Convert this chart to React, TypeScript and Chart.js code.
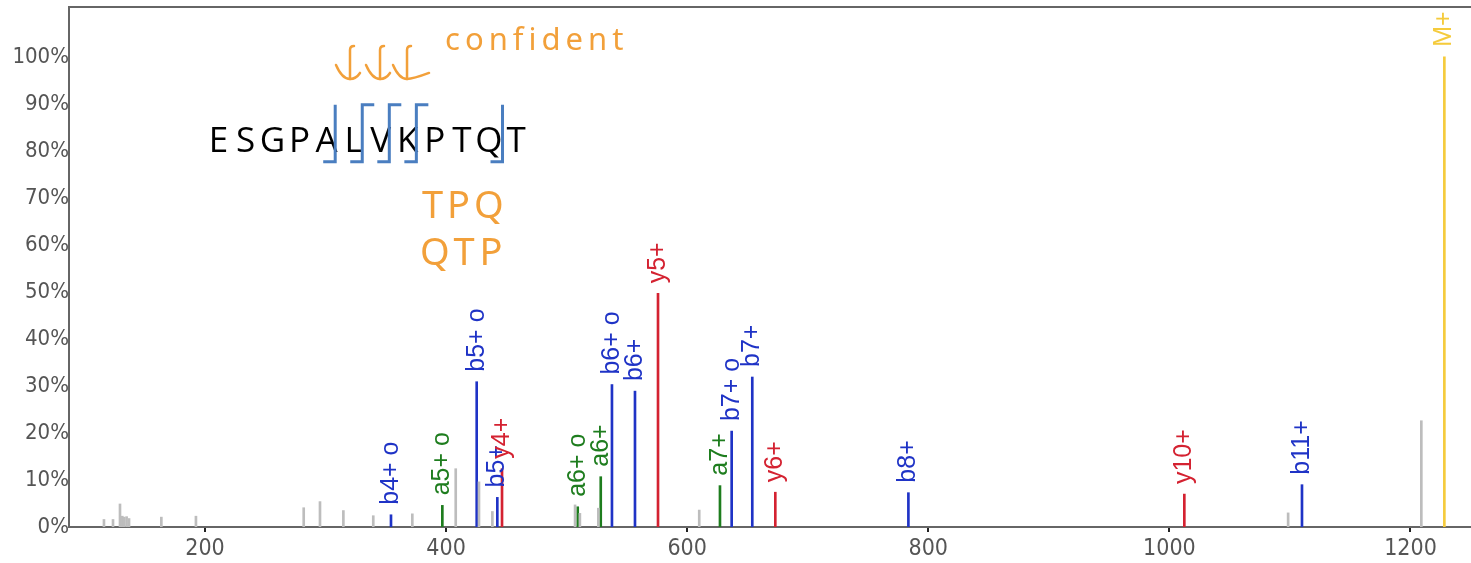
import React, { useEffect, useRef } from "react";
import { Chart, registerables } from "chart.js";

Chart.register(...registerables);

// ---- data (m/z, relative intensity %) ----
const GRAY_MZ = [116.2, 123.7, 129.5, 131.4, 133.0, 135.0, 137.0, 163.8, 192.5, 281.9, 295.4, 314.8, 339.6, 372.0, 408.0, 427.3, 438.4, 507.0, 511.0, 526.3, 610.0, 1098.5, 1209.0];
const GRAY_INT = [1.6, 1.6, 4.9, 2.3, 2.1, 2.2, 1.8, 2.1, 2.3, 4.1, 5.4, 3.5, 2.4, 2.8, 12.4, 9.6, 3.3, 4.7, 2.9, 4.0, 3.6, 3.0, 22.6];

const B_MZ = [354.3, 425.4, 442.5, 537.6, 556.7, 636.9, 654.0, 783.5, 1110.0];
const B_INT = [2.6, 30.9, 6.3, 30.3, 28.9, 20.4, 31.9, 7.3, 9.0];
const B_LABELS = ["b4+ o", "b5+ o", "b5+", "b6+ o", "b6+", "b7+ o", "b7+", "b8+", "b11+"];

const A_MZ = [396.9, 509.2, 528.3, 627.2];
const A_INT = [4.6, 4.3, 10.7, 8.8];
const A_LABELS = ["a5+ o", "a6+ o", "a6+", "a7+"];

const Y_MZ = [446.4, 575.8, 673.1, 1012.4];
const Y_INT = [12.4, 49.7, 7.4, 7.0];
const Y_LABELS = ["y4+", "y5+", "y6+", "y10+"];

const M_MZ = [1228.1];
const M_INT = [100];
const M_LABELS = ["M+"];

const X_TICKS = [200, 400, 600, 800, 1000, 1200];
const Y_TICKS = [0, 10, 20, 30, 40, 50, 60, 70, 80, 90, 100];
const X_MIN = 87.2;
const X_MAX = 1250.2;
const Y_MAX = 110.6;

// ---- annotation overlay ----
const SEQUENCE = "ESGPALVKPTQT";
const SEQ_ANCHOR = { mz: 211.2, pct: 79.8 };
const BRACKET_GAPS = [4, 5, 6, 7, 10];
const BRACKET_TOP_HOOK = [false, true, true, true, false];
const NOTES = [
  { text: "confident", mz: 399.1, pct: 101.5, size: 31, spacing: 5 },
  { text: "TPQ", mz: 380.0, pct: 65.7, size: 38, spacing: 4 },
  { text: "QTP", mz: 378.3, pct: 55.7, size: 38, spacing: 5 },
];
const ARROW_MZ = [320.3, 345.2, 367.6];
const ARROW_TOP_PCT = 102.3;
const ARROW_BOTTOM_PCT = 95.3;

const COLORS = {
  gray: "#bdbdbd",
  b: "#1f33c6",
  a: "#1e7d1e",
  y: "#d42231",
  m: "#f5cb3c",
  axis: "#666666",
  tick: "#555555",
  bracket: "#4a7ec0",
  note: "#f2a03a",
};

const TICK_FAMILY = '"DejaVu Sans Condensed", "Liberation Sans", Arial, sans-serif';
const LABEL_FONT = '25px "Liberation Sans", Arial, sans-serif';
const LABEL_GAP = 10;
const SEQ_PITCH = 27.05;

const toPoints = (xs: number[], ys: number[]) => xs.map((x, i) => ({ x, y: ys[i] }));

const overlayPlugin = {
  id: "overlay",
  afterDatasetsDraw(chart: any) {
    const { ctx, chartArea } = chart;
    const xs = chart.scales.x;
    const ys = chart.scales.y;
    ctx.save();
    // top frame line
    ctx.strokeStyle = COLORS.axis;
    ctx.lineWidth = 2;
    ctx.beginPath();
    ctx.moveTo(chartArea.left, chartArea.top);
    ctx.lineTo(chartArea.right, chartArea.top);
    ctx.stroke();

    // peak labels
    chart.data.datasets.forEach((ds: any, di: number) => {
      const labels: string[] | undefined = ds.peakLabels;
      if (!labels) return;
      const meta = chart.getDatasetMeta(di);
      meta.data.forEach((el: any, i: number) => {
        const txt = labels[i];
        if (!txt) return;
        ctx.save();
        ctx.translate(el.x, el.y - LABEL_GAP);
        ctx.rotate(-Math.PI / 2);
        ctx.font = LABEL_FONT;
        ctx.fillStyle = ds.backgroundColor;
        ctx.textAlign = "left";
        ctx.textBaseline = "middle";
        ctx.fillText(txt, 0, 0);
        ctx.restore();
      });
    });

    // sequence
    const sx = xs.getPixelForValue(SEQ_ANCHOR.mz);
    const sy = ys.getPixelForValue(SEQ_ANCHOR.pct);
    ctx.font = '35px "Open Sans", "Noto Sans", sans-serif';
    ctx.fillStyle = "#000000";
    ctx.textAlign = "center";
    ctx.textBaseline = "alphabetic";
    for (let i = 0; i < SEQUENCE.length; i++) {
      ctx.fillText(SEQUENCE[i], sx + i * SEQ_PITCH, sy);
    }
    // brackets
    ctx.strokeStyle = COLORS.bracket;
    ctx.lineWidth = 3;
    ctx.lineJoin = "miter";
    BRACKET_GAPS.forEach((g, k) => {
      const bx = sx + (g + 0.5) * SEQ_PITCH - (k === BRACKET_GAPS.length - 1 ? 0 : 5);
      const top = sy - 47;
      const bot = sy + 10;
      ctx.beginPath();
      if (BRACKET_TOP_HOOK[k]) {
        ctx.moveTo(bx + 12, top);
        ctx.lineTo(bx, top);
      } else {
        ctx.moveTo(bx, top);
      }
      ctx.lineTo(bx, bot);
      ctx.lineTo(bx - 12, bot);
      ctx.stroke();
    });

    // handwritten notes
    ctx.fillStyle = COLORS.note;
    ctx.textAlign = "left";
    NOTES.forEach((n) => {
      ctx.font = `${n.size}px "Noto Sans", "Open Sans", sans-serif`;
      (ctx as any).letterSpacing = `${n.spacing}px`;
      ctx.fillText(n.text, xs.getPixelForValue(n.mz), ys.getPixelForValue(n.pct));
    });
    (ctx as any).letterSpacing = "0px";

    // hand-drawn down arrows
    ctx.strokeStyle = COLORS.note;
    ctx.lineWidth = 2.5;
    ctx.lineCap = "round";
    const ty = ys.getPixelForValue(ARROW_TOP_PCT);
    const by = ys.getPixelForValue(ARROW_BOTTOM_PCT);
    ARROW_MZ.forEach((m, k) => {
      const cx = xs.getPixelForValue(m);
      ctx.beginPath();
      ctx.moveTo(cx + 4, ty);
      ctx.quadraticCurveTo(cx, ty, cx, ty + 4);
      ctx.lineTo(cx, by);
      ctx.stroke();
      ctx.beginPath();
      ctx.moveTo(cx - 14, by - 14);
      ctx.quadraticCurveTo(cx - 8, by, cx, by);
      ctx.quadraticCurveTo(cx + 6, by, cx + (k === ARROW_MZ.length - 1 ? 22 : 10), by - 6);
      ctx.stroke();
    });
    ctx.restore();
  },
};

export default function App() {
  const canvasRef = useRef<HTMLCanvasElement | null>(null);

  useEffect(() => {
    if (!canvasRef.current) return;
    const mk = (xs: number[], ys: number[], color: string, labels?: string[]) => ({
      data: toPoints(xs, ys),
      backgroundColor: color,
      borderWidth: 0,
      barThickness: 2,
      grouped: false,
      peakLabels: labels,
    });
    const chart = new Chart(canvasRef.current, {
      type: "bar",
      data: {
        datasets: [
          mk(GRAY_MZ, GRAY_INT, COLORS.gray),
          mk(B_MZ, B_INT, COLORS.b, B_LABELS),
          mk(A_MZ, A_INT, COLORS.a, A_LABELS),
          mk(Y_MZ, Y_INT, COLORS.y, Y_LABELS),
          mk(M_MZ, M_INT, COLORS.m, M_LABELS),
        ] as any,
      },
      options: {
        animation: false,
        responsive: false,
        maintainAspectRatio: false,
        layout: { padding: { top: 7, right: 0, left: 0, bottom: 0 } },
        plugins: { legend: { display: false }, tooltip: { enabled: false } },
        scales: {
          x: {
            type: "linear",
            min: X_MIN,
            max: X_MAX,
            offset: false,
            grid: {
              display: true,
              offset: false,
              drawOnChartArea: false,
              drawTicks: true,
              tickLength: 5,
              color: "#222222",
              lineWidth: 2,
            },
            border: { display: true, color: COLORS.axis, width: 2 },
            ticks: {
              color: COLORS.tick,
              font: { family: TICK_FAMILY, size: 23 },
              padding: 3,
              maxRotation: 0,
              autoSkip: false,
              callback: (v: any) => String(v),
            },
            afterBuildTicks: (s: any) => {
              s.ticks = X_TICKS.map((v) => ({ value: v }));
            },
            afterFit: (s: any) => {
              s.height = 36;
              s.paddingLeft = 0;
              s.paddingRight = 0;
            },
          },
          y: {
            type: "linear",
            min: 0,
            max: Y_MAX,
            grid: { display: false, drawTicks: false, tickLength: 0 },
            border: { display: true, color: COLORS.axis, width: 2 },
            ticks: {
              color: COLORS.tick,
              font: { family: TICK_FAMILY, size: 22 },
              padding: 0,
              autoSkip: false,
              callback: (v: any) => `${v}%`,
            },
            afterBuildTicks: (s: any) => {
              s.ticks = Y_TICKS.map((v) => ({ value: v }));
            },
            afterFit: (s: any) => {
              s.width = 69;
              s.paddingTop = 0;
              s.paddingBottom = 0;
            },
          },
        },
      } as any,
      plugins: [overlayPlugin],
    });
    return () => chart.destroy();
  }, []);

  return (
    <div style={{ position: "fixed", left: 0, top: 0, width: 1471, height: 563, background: "#ffffff" }}>
      <canvas ref={canvasRef} width={1471} height={563} style={{ width: 1471, height: 563, display: "block" }} />
    </div>
  );
}
